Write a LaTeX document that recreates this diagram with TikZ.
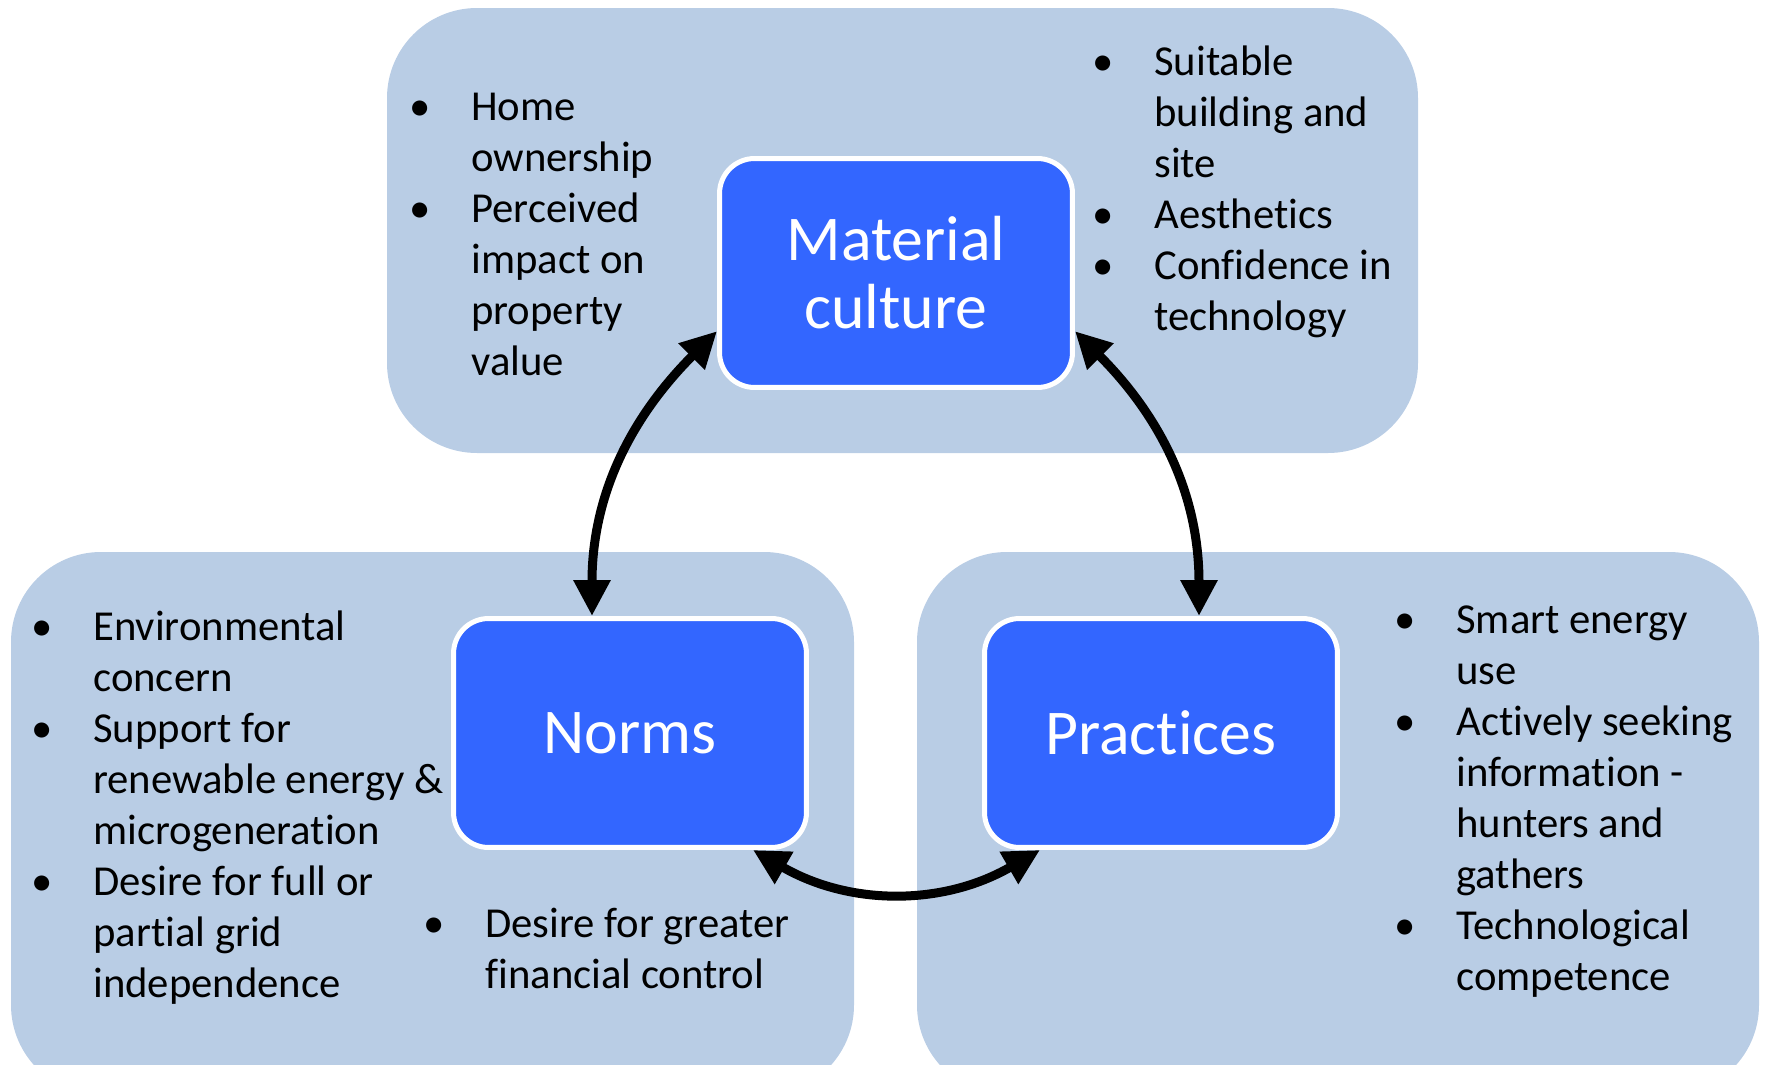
\documentclass[tikz,border=0pt]{standalone}
\usepackage{fontspec}
\setmainfont{Carlito}[RawFeature={-liga;-calt;-clig}]
\usetikzlibrary{arrows.meta}

\definecolor{panelblue}{HTML}{B9CDE5}
\definecolor{boxblue}{HTML}{3366FF}

\newcommand{\itemfont}{\fontsize{24.3pt}{29.1pt}\selectfont}
\newcommand{\titlefont}{\fontsize{36.3pt}{38.7pt}\selectfont}

\begin{document}
\begin{tikzpicture}[x=0.02cm,y=-0.02cm,
		panel/.style={fill=panelblue, rounded corners=1.8cm},
		conceptbox/.style={draw=white, line width=0.1cm, fill=boxblue,
			rounded corners=0.7cm, minimum width=7.06cm, minimum height=4.58cm,
			align=center, text=white, font=\titlefont},
		bulletlist/.style={anchor=base west, inner sep=0pt, font=\itemfont},
		linkarrow/.style={{Triangle[length=0.72cm,width=0.7cm]}-{Triangle[length=0.72cm,width=0.7cm]},
			line width=0.18cm}]

		\useasboundingbox (0,0) rectangle (1766,1065);
		\clip (0,0) rectangle (1766,1065);

		% background panels
		\fill[panel] (387,8) rectangle (1418,453);
		\fill[panel] (11,552) rectangle (854,1095);
		\fill[panel] (917,552) rectangle (1759,1095);

		% the three concepts
		\node[conceptbox] (material) at (896,273) {Material\\culture};
		\node[conceptbox] (norms) at (630,733) {Norms};
		\node[conceptbox] (practices) at (1161,733) {Practices};

		% bullet lists
		\node[bulletlist] (homelist) at (409,120) {\begin{tabular}[t]{@{}p{1.24cm}@{}l@{}}
			\textbullet & Home\\ & ownership\\
			\textbullet & Perceived\\ & impact on\\ & property\\ & value
		\end{tabular}};
		\node[bulletlist] (sitelist) at (1092,75) {\begin{tabular}[t]{@{}p{1.24cm}@{}l@{}}
			\textbullet & Suitable\\ & building and\\ & site\\
			\textbullet & Aesthetics\\
			\textbullet & Confidence in\\ & technology
		\end{tabular}};
		\node[bulletlist] (concernlist) at (31,640) {\begin{tabular}[t]{@{}p{1.24cm}@{}l@{}}
			\textbullet & Environmental\\ & concern\\
			\textbullet & Support for\\ & renewable energy \&\\ & microgeneration\\
			\textbullet & Desire for full or\\ & partial grid\\ & independence
		\end{tabular}};
		\node[bulletlist] (financelist) at (423,937) {\begin{tabular}[t]{@{}p{1.24cm}@{}l@{}}
			\textbullet & Desire for greater\\ & financial control
		\end{tabular}};
		\node[bulletlist] (uselist) at (1394,633) {\begin{tabular}[t]{@{}p{1.24cm}@{}l@{}}
			\textbullet & Smart energy\\ & use\\
			\textbullet & Actively seeking\\ & information -\\ & hunters and\\ & gathers\\
			\textbullet & Technological\\ & competence
		\end{tabular}};

		% links between concepts
		\draw[linkarrow] (norms.108) to[out=90,in=-135] (material.198);
		\draw[linkarrow] (practices.72) to[out=90,in=-45] (material.-18);
		\draw[linkarrow] ([xshift=-1.12cm]norms.south east) to[out=-30,in=-150] ([xshift=1.16cm]practices.south west);

	\end{tikzpicture}
\end{document}
